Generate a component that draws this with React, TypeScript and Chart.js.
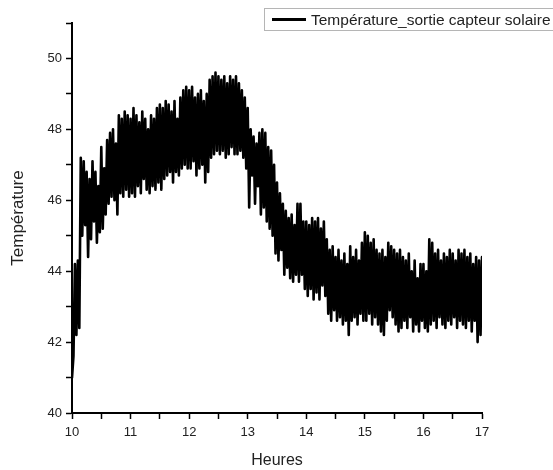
import React, { useEffect, useRef } from "react";
import { Chart, registerables } from "chart.js";

Chart.register(...registerables);

// Hours axis: peaks sampled every 0.05 h from 10.00, troughs offset by 0.025 h
const startHour = 10;
const sampleStep = 0.05;

const peaks = [
  41.0, 44.2, 44.3, 47.2, 47.1, 46.8, 46.6, 47.1, 46.8, 46.4,
  47.5, 46.9, 47.7, 47.9, 48.0, 47.6, 48.4, 48.3, 48.5, 48.4,
  48.3, 48.6, 48.4, 48.2, 48.5, 48.3, 48.0, 48.4, 48.3, 48.6,
  48.7, 48.6, 48.8, 48.7, 48.5, 48.8, 48.3, 48.9, 49.1, 49.2,
  49.1, 49.2, 48.9, 49.0, 49.1, 48.8, 49.0, 49.4, 49.5, 49.6,
  49.5, 49.4, 49.5, 49.3, 49.5, 49.4, 49.5, 49.3, 49.1, 48.9,
  48.6, 48.0, 47.8, 47.6, 47.9, 48.0, 47.9, 47.5, 47.4, 47.0,
  46.5, 46.2, 45.9, 45.7, 45.5, 45.6, 45.3, 45.9, 45.9, 45.4,
  45.4, 45.3, 45.5, 45.4, 45.5, 45.2, 45.4, 44.9, 44.6, 44.7,
  44.4, 44.6, 44.3, 44.5, 44.2, 44.7, 44.4, 44.6, 44.3, 44.8,
  45.1, 45.0, 44.8, 44.9, 44.6, 44.5, 44.6, 44.4, 44.8, 44.7,
  44.6, 44.5, 44.6, 44.4, 44.3, 44.5, 44.0, 44.3, 43.8, 44.2,
  44.2, 44.0, 44.9, 44.8, 44.5, 44.6, 44.3, 44.5, 44.4, 44.6,
  44.5, 44.3, 44.6, 44.5, 44.6, 44.4, 44.5, 44.2, 44.4, 44.3,
  44.4,
];

const troughs = [
  41.6, 42.2, 42.4, 45.0, 45.3, 44.4, 44.9, 45.4, 44.8, 45.1,
  45.2, 45.6, 45.9, 46.1, 46.0, 45.6, 46.2, 46.1, 46.3, 46.1,
  46.2, 46.1, 46.4, 46.2, 46.6, 46.3, 46.2, 46.4, 46.3, 46.5,
  46.3, 46.6, 46.7, 46.8, 46.5, 46.8, 46.7, 46.9, 47.0, 46.9,
  46.9, 47.1, 46.7, 46.9, 47.0, 46.5, 46.8, 47.2, 47.3, 47.4,
  47.3, 47.4, 47.2, 47.3, 47.5, 47.3, 47.3, 47.4, 47.2, 46.9,
  45.8, 46.7, 45.9, 46.4, 45.6, 45.8, 45.4, 45.2, 45.0, 44.5,
  44.3, 44.6, 43.9, 44.1, 43.8, 43.7, 43.9, 43.7, 43.9, 43.5,
  43.3, 43.5, 43.2, 43.4, 43.2, 43.6, 43.3, 42.8, 42.6, 42.9,
  42.6, 42.7, 42.5, 42.6, 42.2, 42.6, 42.7, 42.5, 42.8, 42.6,
  42.6, 42.8, 42.5, 42.7, 42.5, 42.3, 42.2, 42.6, 42.9, 42.7,
  42.5, 42.3, 42.4, 42.6, 42.4, 42.7, 42.3, 42.5, 42.3, 42.6,
  42.4, 42.3, 42.5, 42.6, 42.4, 42.7, 42.5, 42.4, 42.6, 42.5,
  42.7, 42.4, 42.6, 42.5, 42.4, 42.6, 42.3, 42.6, 42.0, 42.2,
];

const seriesLabel = "Température_sortie capteur solaire";
const xTitle = "Heures";
const yTitle = "Température";
const xMin = 10, xMax = 17;
const yMin = 40, yMax = 51;

function buildPoints() {
  const pts: { x: number; y: number }[] = [];
  for (let i = 0; i < peaks.length; i++) {
    const h = startHour + i * sampleStep;
    pts.push({ x: h, y: peaks[i] });
    if (i < troughs.length) pts.push({ x: h + sampleStep / 2, y: troughs[i] });
  }
  return pts;
}

export default function App() {
  const ref = useRef<HTMLCanvasElement | null>(null);
  useEffect(() => {
    if (!ref.current) return;
    const family = "Liberation Sans, Arial, sans-serif";
    const font = { family, size: 13 };
    const chart = new Chart(ref.current, {
      type: "line",
      data: {
        datasets: [
          {
            label: seriesLabel,
            data: buildPoints(),
            borderColor: "#000",
            borderWidth: 2.6,
            borderJoinStyle: "round",
            borderCapStyle: "round",
            pointRadius: 0,
            tension: 0,
            fill: false,
          },
        ],
      },
      options: {
        animation: false,
        responsive: false,
        devicePixelRatio: 1,
        layout: { padding: { left: 4, top: 23, right: 71, bottom: 0 } },
        plugins: { legend: { display: false }, tooltip: { enabled: false } },
        scales: {
          x: {
            type: "linear",
            min: xMin,
            max: xMax,
            afterFit: (s: any) => { s.height = 57; },
            border: { color: "#000", width: 2 },
            grid: { drawOnChartArea: false, drawTicks: true, tickLength: 6, tickColor: "#000", tickWidth: 1.5 },
            ticks: {
              stepSize: 0.5,
              autoSkip: false,
              maxRotation: 0,
              padding: 6,
              color: "#222",
              font,
              callback: (v: any) => (Number.isInteger(Number(v)) ? String(v) : ""),
            },
            title: { display: true, text: xTitle, color: "#222", font: { family, size: 16 }, padding: { top: 4, bottom: 0 } },
          },
          y: {
            type: "linear",
            min: yMin,
            max: yMax,
            afterFit: (s: any) => { s.width = 68; },
            border: { color: "#000", width: 2 },
            grid: { drawOnChartArea: false, drawTicks: true, tickLength: 6, tickColor: "#000", tickWidth: 1.5 },
            ticks: {
              stepSize: 1,
              autoSkip: false,
              padding: 4,
              color: "#222",
              font,
              callback: (v: any) => (Number(v) % 2 === 0 ? String(v) : ""),
            },
            title: { display: true, text: yTitle, color: "#222", font: { family, size: 17 }, padding: { top: 4, bottom: 4 } },
          },
        },
      },
    } as any);
    return () => chart.destroy();
  }, []);

  return (
    <div style={{ position: "fixed", left: 0, top: 0, width: 553, height: 470, background: "#fff", overflow: "hidden" }}>
      <canvas ref={ref} width={553} height={470} style={{ display: "block" }} />
      <div
        style={{
          position: "absolute",
          left: 264,
          top: 8,
          width: 300,
          height: 21,
          border: "1px solid #b5b5b5",
          display: "flex",
          alignItems: "center",
          fontFamily: "Liberation Sans, Arial, sans-serif",
          fontSize: 15.5,
          color: "#222",
          whiteSpace: "nowrap",
        }}
      >
        <span style={{ display: "inline-block", width: 34, height: 3, background: "#000", marginLeft: 7, marginRight: 5 }} />
        <span>{seriesLabel}</span>
      </div>
    </div>
  );
}
